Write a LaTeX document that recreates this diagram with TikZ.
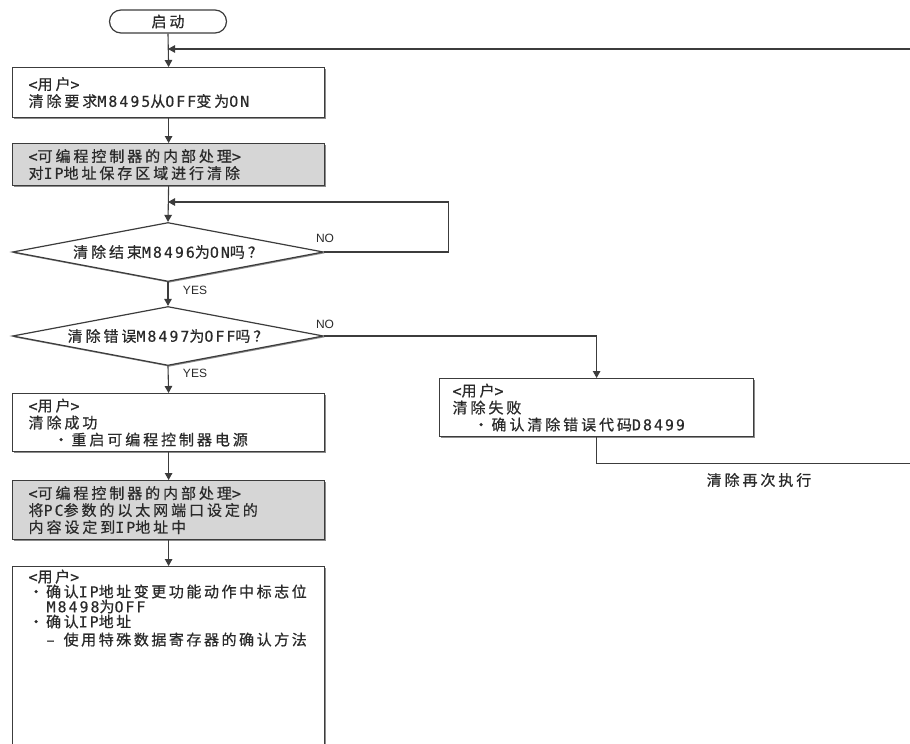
\documentclass[tikz,border=0pt]{standalone}
\usepackage{fontspec}
\setmainfont{Noto Sans CJK SC}[LetterSpace=19.5, FakeBold=0.6]
\newfontfamily\hwfont{DejaVu Sans Mono}[Scale=1.0, LetterSpace=13, FakeBold=0.3]
\newfontfamily\lat{Liberation Sans}
\newcommand\h[1]{{\hwfont #1}}
\usetikzlibrary{arrows.meta,shapes.geometric,shapes.misc,shadows}
\definecolor{ink}{HTML}{2A2A2A}
\definecolor{edge}{HTML}{3C3C3C}
\definecolor{shade}{HTML}{D6D6D6}
\tikzset{
  txt/.style={font=\fontsize{15}{17}\selectfont, text=ink},
  box/.style={txt, draw=edge, line width=1.2pt, fill=white, rectangle, anchor=north west,
    inner xsep=16pt, inner ysep=0pt, align=left,
    drop shadow={shadow xshift=1.3pt, shadow yshift=-1.3pt, fill=black!45, opacity=1}},
  gbox/.style={box, fill=shade},
  dia/.style={txt, draw=edge, line width=1.2pt, fill=white, diamond, shape aspect=5.36,
    minimum width=311pt, minimum height=59pt, inner sep=0pt,
    drop shadow={shadow xshift=1.3pt, shadow yshift=-1.3pt, fill=black!45, opacity=1}},
  term/.style={txt, draw=edge, line width=1.2pt, rounded rectangle, minimum width=117pt,
    minimum height=23pt, inner sep=0pt},
  flow/.style={draw=edge, line width=1.1pt, -{Triangle[length=7pt,width=7.5pt]}},
  lbl/.style={font=\lat\fontsize{12}{13}\selectfont, text=ink, inner sep=0pt},
}
\begin{document}
\begin{tikzpicture}[x=1pt,y=-1pt]
\useasboundingbox (0,0) rectangle (910,744);
\fill[white] (0,0) rectangle (910,744);

\node[term] (start) at (168,21.5) {启动};
\node[box, minimum width=312pt, minimum height=50pt, text width=280pt] (b1) at (12,67)
  {\h{<}用户\h{>}\\清除要求\h{M8495}从\h{OFF}变为\h{ON}};
\node[gbox, minimum width=312pt, minimum height=42pt, text width=280pt] (b2) at (12,143)
  {\h{<}可编程控制器的内部处理\h{>}\\对\h{IP}地址保存区域进行清除};
\node[dia] (d1) at (168,252) {清除结束\h{M8496}为\h{ON}吗？};
\node[dia] (d2) at (168,336) {清除错误\h{M8497}为\h{OFF}吗？};
\node[box, minimum width=312pt, minimum height=58pt, text width=280pt] (b3) at (12,393)
  {\h{<}用户\h{>}\\清除成功\\\hspace*{25pt}・重启可编程控制器电源};
\node[gbox, minimum width=312pt, minimum height=59pt, text width=280pt] (b4) at (12,480)
  {\h{<}可编程控制器的内部处理\h{>}\\将\h{PC}参数的以太网端口设定的\\内容设定到\h{IP}地址中};
\node[box, minimum width=312pt, text width=280pt, inner ysep=3pt] (b5) at (12,566)
  {\parbox[t][185pt][t]{280pt}{\fontsize{15}{15}\selectfont\addfontfeatures{LetterSpace=17}%
   \h{<}用户\h{>}\\
   ・确认\h{IP}地址变更功能动作中标志位\\
   \hspace*{18pt}\h{M8498}为\h{OFF}\\
   ・确认\h{IP}地址\\[3pt]
   \hspace*{18pt}–\hspace*{9pt}使用特殊数据寄存器的确认方法}};
\node[box, minimum width=314pt, minimum height=58pt, text width=288pt, inner xsep=13pt] (b6) at (439,378)
  {\h{<}用户\h{>}\\清除失败\\\hspace*{21pt}・确认清除错误代码\h{D8499}};

\coordinate (j0) at (168,49);
\coordinate (j1) at (168,202);

\draw[flow] (start.south) -- (b1.north);
\draw[flow] (b1.south) -- (b2.north);
\draw[flow] (b2.south) -- (d1.north);
\draw[flow] (d1.south) -- (d2.north);
\draw[flow] (d2.south) -- (b3.north);
\draw[flow] (b3.south) -- (b4.north);
\draw[flow] (b4.south) -- (b5.north);
\draw[flow] (d1.east) -- ++(124,0) |- (j1);
\draw[flow] (d2.east) -| (b6.north);
\draw[flow] (b6.south) -- ++(0,26) -- ++(330,0) |- (j0);

\node[lbl] (no1) at (325,238) {NO};
\node[lbl] (no2) at (325,324) {NO};
\node[lbl] (yes1) at (195,290) {YES};
\node[lbl] (yes2) at (195,373) {YES};
\node[txt, inner sep=0pt] (again) at (759,480) {清除再次执行};
\end{tikzpicture}
\end{document}
